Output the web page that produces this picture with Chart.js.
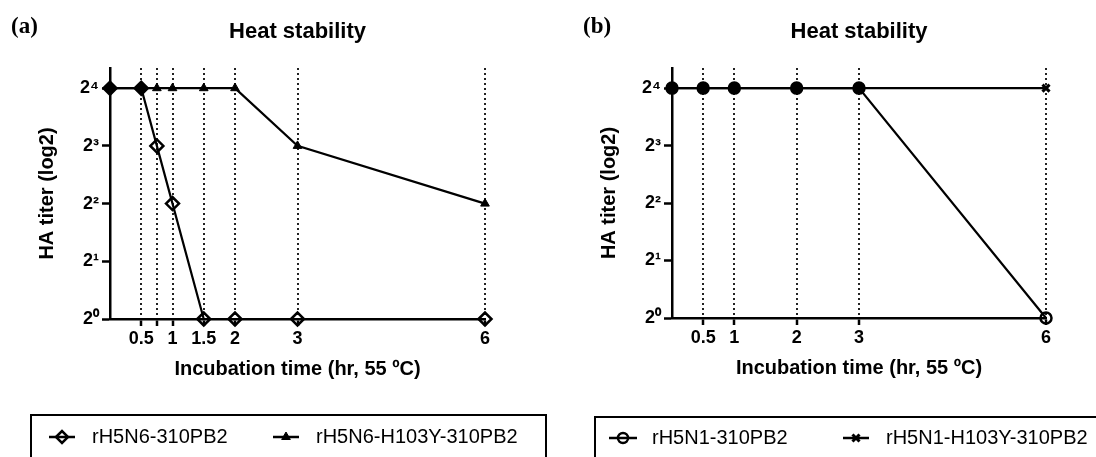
<!DOCTYPE html>
<html><head><meta charset="utf-8">
<script src="https://cdn.jsdelivr.net/npm/chart.js@4.4.0/dist/chart.umd.min.js"></script>
<style>
html,body{margin:0;padding:0;background:#fff;overflow:hidden;}
#wrap{display:flex;width:1096px;height:457px;}
canvas{display:block;}
</style></head><body>
<div id="wrap"><canvas id="ca" width="548" height="457"></canvas><canvas id="cb" width="548" height="457"></canvas></div>
<script>
// ---------- data ----------
const timeA = [0, 0.5, 0.75, 1, 1.5, 2, 3, 6];
const rH5N6 = [4, 4, 3, 2, 0, 0, 0, 0];
const rH5N6_H103Y = [4, 4, 4, 4, 4, 4, 3, 2];
const xTicksA = [0.5, 0.75, 1, 1.5, 2, 3, 6];
const xTickLabelsA = ['0.5', '', '1', '1.5', '2', '3', '6'];
const namesA = ['rH5N6-310PB2', 'rH5N6-H103Y-310PB2'];

const timeB = [0, 0.5, 1, 2, 3, 6];
const rH5N1 = [4, 4, 4, 4, 4, 0];
const rH5N1_H103Y = [4, 4, 4, 4, 4, 4];
const xTicksB = [0.5, 1, 2, 3, 6];
const xTickLabelsB = ['0.5', '1', '2', '3', '6'];
const namesB = ['rH5N1-310PB2', 'rH5N1-H103Y-310PB2'];

const yTicks = [0, 1, 2, 3, 4];
const yTickLabels = ['2\u2070', '2\u00B9', '2\u00B2', '2\u00B3', '2\u2074'];

const chartTitle = 'Heat stability';
const xTitle = 'Incubation time (hr, 55 \u00BAC)';
const yTitle = 'HA titer (log2)';

// ---------- helpers ----------
const SANS = "'Liberation Sans', Arial, Helvetica, sans-serif";
const SERIF = "'Liberation Serif', 'Times New Roman', serif";

function toPoints(xs, ys) { return xs.map((x, i) => ({ x: x, y: ys[i] })); }

// marker is shown filled where another series sits on the same point
function fillWhenShared(own, other, openColor) {
  return (c) => {
    const i = c.dataIndex;
    return (other[i] === own[i]) ? '#000' : openColor;
  };
}

function drawMarker(ctx, style, r, bw, fill, x, y) {
  ctx.save();
  ctx.fillStyle = fill; ctx.strokeStyle = '#000'; ctx.lineWidth = bw;
  if (Chart.helpers && Chart.helpers.drawPoint) {
    Chart.helpers.drawPoint(ctx, { pointStyle: style, radius: r, borderWidth: bw, rotation: 0 }, x, y);
  }
  ctx.restore();
}

const decor = {
  id: 'decor',
  afterDraw(chart, args, o) {
    const ctx = chart.ctx, ca = chart.chartArea;
    ctx.save();
    ctx.fillStyle = '#000';
    ctx.textAlign = 'left'; ctx.textBaseline = 'alphabetic';
    ctx.font = 'bold 23px ' + SERIF;
    ctx.fillText(o.panel, o.panelX, 33);
    ctx.font = 'bold 22px ' + SANS;
    ctx.textAlign = 'center';
    ctx.fillText(chartTitle, (ca.left + ca.right) / 2, 38);
    // legend box
    ctx.lineWidth = 2; ctx.strokeStyle = '#000';
    ctx.strokeRect(o.box[0], o.box[1], o.box[2], o.box[3]);
    ctx.font = '20px ' + SANS;
    ctx.textAlign = 'left';
    o.items.forEach((it) => {
      ctx.beginPath();
      ctx.lineWidth = 2.5;
      ctx.moveTo(it.mx - it.half, o.my); ctx.lineTo(it.mx + it.half, o.my);
      ctx.stroke();
      drawMarker(ctx, it.style, it.r, it.bw, it.fill, it.mx, o.my);
      ctx.fillStyle = '#000';
      ctx.fillText(it.name, it.tx, o.ty);
    });
    ctx.restore();
  }
};

function makeChart(id, cfg) {
  return new Chart(document.getElementById(id), {
    type: 'line',
    data: { datasets: cfg.datasets },
    options: {
      responsive: false, animation: false, devicePixelRatio: 1,
      layout: { padding: cfg.padding },
      plugins: { legend: { display: false }, tooltip: { enabled: false }, decor: cfg.decor },
      elements: { line: { tension: 0 } },
      scales: {
        x: {
          type: 'linear', min: 0, max: 6,
          afterBuildTicks: (s) => { s.ticks = cfg.xTicks.map(v => ({ value: v })); },
          afterFit: (s) => { s.height = 62; },
          ticks: {
            autoSkip: false, maxRotation: 0, padding: 2, color: '#000',
            font: { family: SANS, weight: 'bold', size: 18 },
            callback: (v) => { const k = cfg.xTicks.indexOf(v); return k >= 0 ? cfg.xLabels[k] : ''; }
          },
          grid: {
            drawOnChartArea: true, drawTicks: true, color: '#222', lineWidth: 2,
            tickColor: '#000', tickWidth: 2.5, tickLength: 7, tickBorderDash: []
          },
          border: { display: true, color: '#000', width: 2.5, dash: [2, 3] },
          title: {
            display: true, text: xTitle, color: '#000',
            font: { family: SANS, weight: 'bold', size: 20 }, padding: { top: 0, bottom: 0 }
          }
        },
        y: {
          type: 'linear', min: 0, max: 4.35,
          afterBuildTicks: (s) => { s.ticks = yTicks.map(v => ({ value: v })); },
          afterFit: (s) => { s.width = cfg.yWidth; },
          ticks: {
            padding: 3, color: '#000',
            font: { family: SANS, weight: 'bold', size: 18 },
            callback: (v) => { const k = yTicks.indexOf(v); return k >= 0 ? yTickLabels[k] : ''; }
          },
          grid: { drawOnChartArea: false, drawTicks: true, tickColor: '#000', tickWidth: 2.5, tickLength: 8, color: '#000' },
          border: { display: true, color: '#000', width: 2.5 },
          title: {
            display: true, text: yTitle, color: '#000',
            font: { family: SANS, weight: 'bold', size: 20 }, padding: { top: cfg.yTitlePad, bottom: 0 }
          }
        }
      }
    },
    plugins: [decor]
  });
}

// ---------- panel (a) ----------
makeChart('ca', {
  padding: { left: 0, right: 63, top: 68, bottom: 76 },
  yWidth: 110, yTitlePad: 35,
  xTicks: xTicksA, xLabels: xTickLabelsA,
  datasets: [
    {
      label: namesA[0], data: toPoints(timeA, rH5N6), order: 1, clip: false,
      borderColor: '#000', borderWidth: 2.2,
      pointStyle: 'rectRot', pointRadius: 6.5, pointBorderWidth: 2.5, pointBorderColor: '#000',
      pointBackgroundColor: fillWhenShared(rH5N6, rH5N6_H103Y, 'rgba(255,255,255,0)')
    },
    {
      label: namesA[1], data: toPoints(timeA, rH5N6_H103Y), order: 0, clip: false,
      borderColor: '#000', borderWidth: 2.2,
      pointStyle: 'triangle', pointRadius: 5, pointBorderWidth: 1, pointBorderColor: '#000',
      pointBackgroundColor: '#000'
    }
  ],
  decor: {
    panel: '(a)', panelX: 11,
    box: [31, 415, 515, 80], my: 437, ty: 443,
    items: [
      { name: namesA[0], mx: 62, half: 13, tx: 92, style: 'rectRot', r: 6, bw: 2.5, fill: 'rgba(255,255,255,0)' },
      { name: namesA[1], mx: 286, half: 13, tx: 316, style: 'triangle', r: 5, bw: 1, fill: '#000' }
    ]
  }
});

// ---------- panel (b) ----------
makeChart('cb', {
  padding: { left: 0, right: 50, top: 68, bottom: 77 },
  yWidth: 124, yTitlePad: 49,
  xTicks: xTicksB, xLabels: xTickLabelsB,
  datasets: [
    {
      label: namesB[0], data: toPoints(timeB, rH5N1), order: 1, clip: false,
      borderColor: '#000', borderWidth: 2.2,
      pointStyle: 'circle', pointRadius: 5.5, pointBorderWidth: 2.5, pointBorderColor: '#000',
      pointBackgroundColor: fillWhenShared(rH5N1, rH5N1_H103Y, 'rgba(255,255,255,0)')
    },
    {
      label: namesB[1], data: toPoints(timeB, rH5N1_H103Y), order: 0, clip: false,
      borderColor: '#000', borderWidth: 2.2,
      pointStyle: 'crossRot', pointRadius: 5, pointBorderWidth: 3, pointBorderColor: '#000',
      pointBackgroundColor: '#000'
    }
  ],
  decor: {
    panel: '(b)', panelX: 35,
    box: [47, 417, 560, 80], my: 438, ty: 444,
    items: [
      { name: namesB[0], mx: 75, half: 14, tx: 104, style: 'circle', r: 5, bw: 2.5, fill: 'rgba(255,255,255,0)' },
      { name: namesB[1], mx: 308, half: 13, tx: 338, style: 'crossRot', r: 5, bw: 3, fill: '#000' }
    ]
  }
});
</script>
</body></html>
